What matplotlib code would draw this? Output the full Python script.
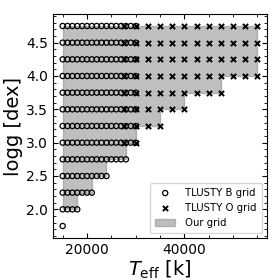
import matplotlib
matplotlib.use("Agg")
import matplotlib.pyplot as plt
from matplotlib.ticker import AutoMinorLocator

logg_levels = [1.75, 2.0, 2.25, 2.5, 2.75, 3.0, 3.25, 3.5, 3.75, 4.0, 4.25, 4.5, 4.75]

b_teff = [15000, 16000, 17000, 18000, 19000, 20000, 21000, 22000,
          23000, 24000, 25000, 26000, 27000, 28000, 29000, 30000]
b_logg_min = [1.75, 2.0, 2.0, 2.0, 2.25, 2.25, 2.25, 2.5,
              2.5, 2.5, 2.75, 2.75, 2.75, 2.75, 3.0, 3.0]

o_teff = [27500, 30000, 32500, 35000, 37500, 40000,
          42500, 45000, 47500, 50000, 52500, 55000]
o_logg_min = [3.0, 3.0, 3.25, 3.25, 3.5, 3.5,
              3.75, 3.75, 3.75, 4.0, 4.0, 4.0]

our_logg = [2.0, 2.25, 2.5, 2.75, 3.0, 3.25, 3.5, 3.75, 4.0, 4.25, 4.5, 4.75]
our_tmax = [18000, 21000, 24000, 28000, 30000, 35000, 40000, 47500,
            55000, 55000, 55000, 55000]
our_tmin = 15000

bx, by = [], []
for t, lmin in zip(b_teff, b_logg_min):
    for g in logg_levels:
        if g >= lmin:
            bx.append(t); by.append(g)
ox, oy = [], []
for t, lmin in zip(o_teff, o_logg_min):
    for g in logg_levels:
        if g >= lmin:
            ox.append(t); oy.append(g)

fig = plt.figure(figsize=(2.8, 2.8), dpi=100)
ax = fig.add_axes([0.189, 0.15, 0.765, 0.80])

hg = ax.fill_betweenx(our_logg, our_tmin, our_tmax, step='post', color='gray',
                      alpha=0.5, label='Our grid', zorder=1)
hb = ax.scatter(bx, by, s=14, facecolors='none', edgecolors='black', linewidths=0.9,
                label='TLUSTY B grid', zorder=3)
ho = ax.scatter(ox, oy, s=14, marker='x', color='black', linewidths=1.4,
                label='TLUSTY O grid', zorder=3)

ax.set_ylim(1.57, 4.93)
ax.set_xticks([20000, 40000])
ax.set_yticks([2.0, 2.5, 3.0, 3.5, 4.0, 4.5])
ax.xaxis.set_minor_locator(AutoMinorLocator(4))
ax.yaxis.set_minor_locator(AutoMinorLocator(5))
ax.tick_params(which='both', direction='in', top=True, right=True, labelsize=10)
ax.tick_params(which='major', length=3.5)
ax.tick_params(which='minor', length=2)

ax.set_xlabel(r'$T_{\rm eff}$ [k]', fontsize=14, labelpad=1)
ax.set_ylabel('logg [dex]', fontsize=14, labelpad=2)

ax.legend(handles=[hb, ho, hg], loc='lower right', fontsize=7.3,
          handletextpad=1.0, borderpad=0.5)

fig.savefig('out.png', dpi=100)
